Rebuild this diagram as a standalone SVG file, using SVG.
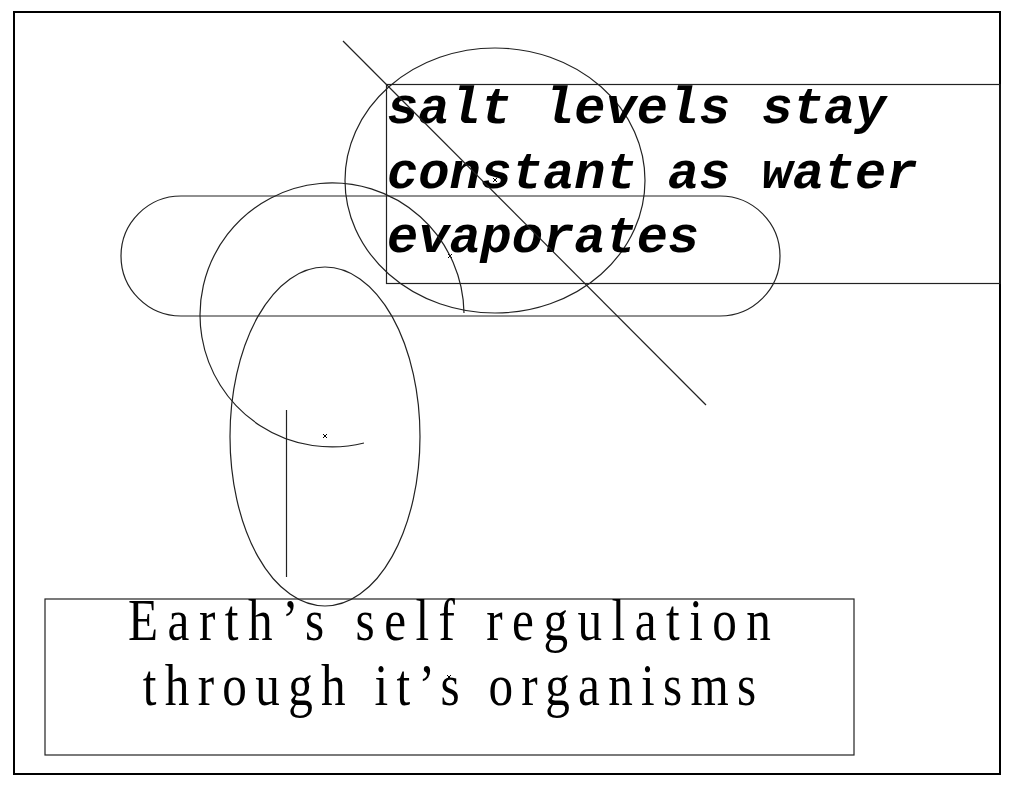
<svg xmlns="http://www.w3.org/2000/svg" width="1014" height="794" viewBox="0 0 1014 794">
  <style>
    .shape { fill: none; stroke: #222; stroke-width: 1.2; }
    .mark { stroke: #000; stroke-width: 1; }
    .top-text { font-family: "Liberation Mono", "DejaVu Sans Mono", monospace; font-size: 52px; font-weight: bold; font-style: italic; fill: #000; }
    .bottom-text { font-family: "Liberation Serif", "DejaVu Serif", serif; font-size: 60px; fill: #000; }
  </style>
  <rect width="1014" height="794" fill="#fff"/>
  <rect id="frame" x="14" y="12" width="986" height="762" fill="none" stroke="#000" stroke-width="2"/>

  <g id="stadium">
    <rect class="shape" x="121" y="196" width="659" height="120" rx="60" ry="60"/>
    <path class="mark" d="M448 254 L452 258 M452 254 L448 258"/>
  </g>

  <g id="circle">
    <ellipse class="shape" cx="495" cy="180.5" rx="150" ry="132.5"/>
    <path class="mark" d="M493 178 L497 182 M497 178 L493 182"/>
  </g>

  <g id="ellipse">
    <ellipse class="shape" cx="325" cy="436.5" rx="95" ry="169.5"/>
    <path class="mark" d="M323 434 L327 438 M327 434 L323 438"/>
  </g>

  <g id="salt-box">
    <rect class="shape" x="386.5" y="84.5" width="613.5" height="199"/>
    <text class="top-text" x="387" y="123">salt levels stay</text>
    <text class="top-text" x="387" y="187.5">constant as water</text>
    <text class="top-text" x="387" y="252">evaporates</text>
  </g>

  <g id="earth-box">
    <rect class="shape" x="45" y="599" width="809" height="156"/>
    <g transform="scale(0.82,1)">
      <text class="bottom-text" x="548.2" y="640" text-anchor="middle" textLength="784" lengthAdjust="spacing">Earth’s self regulation</text>
      <text class="bottom-text" x="548.2" y="705" text-anchor="middle" textLength="748" lengthAdjust="spacing">through it’s organisms</text>
    </g>
    <path class="mark" d="M447 675 L451 679 M451 675 L447 679"/>
  </g>

  <g id="connectors">
    <line class="shape" x1="343" y1="41" x2="706" y2="405"/>
    <path class="shape" d="M464 313 A 132 132 0 1 0 364 443"/>
    <line class="shape" x1="286.5" y1="410" x2="286.5" y2="577"/>
  </g>
</svg>
